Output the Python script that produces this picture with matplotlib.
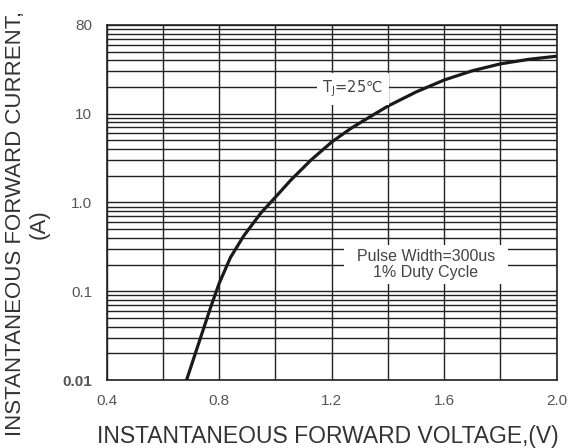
import matplotlib
matplotlib.use('Agg')
import matplotlib.pyplot as plt
from matplotlib.ticker import LogLocator, FixedLocator, NullFormatter

# forward voltage (V) vs forward current (A)
voltage = [0.684, 0.713, 0.742, 0.771, 0.80, 0.84, 0.887, 0.948, 1.0, 1.054,
           1.126, 1.2, 1.27, 1.34, 1.4, 1.5, 1.6, 1.7, 1.8, 1.9, 2.0]
current = [0.010, 0.019, 0.036, 0.068, 0.123, 0.24, 0.42, 0.76, 1.15, 1.78,
           3.0, 4.8, 6.9, 9.4, 12.2, 17.6, 24.0, 30.5, 36.5, 41.0, 44.5]

x_ticks = [0.4, 0.8, 1.2, 1.6, 2.0]
x_tick_labels = ['0.4', '0.8', '1.2', '1.6', '2.0']
x_minor = [0.6, 1.0, 1.4, 1.8]
y_ticks = [0.01, 0.1, 1, 10, 100]
y_tick_labels = ['0.01', '0.1', '1.0', '10', '80']

plt.rcParams['font.family'] = ['Liberation Sans', 'DejaVu Sans']
plt.rcParams['mathtext.fontset'] = 'custom'
plt.rcParams['mathtext.rm'] = 'DejaVu Sans'
plt.rcParams['mathtext.it'] = 'DejaVu Sans'

fig = plt.figure(figsize=(5.68, 4.48), dpi=100)
ax = fig.add_axes([106.7 / 568, 68 / 448, 450 / 568, 355 / 448])

ax.set_yscale('log')
ax.set_xlim(0.4, 2.0)
ax.set_ylim(0.01, 100)

ax.xaxis.set_major_locator(FixedLocator(x_ticks))
ax.xaxis.set_minor_locator(FixedLocator(x_minor))
ax.set_xticklabels(x_tick_labels)
ax.yaxis.set_major_locator(FixedLocator(y_ticks))
ax.yaxis.set_minor_locator(LogLocator(base=10, subs=range(2, 10)))
ax.yaxis.set_minor_formatter(NullFormatter())
ax.set_yticklabels(y_tick_labels)

ax.grid(True, which='both', color='#222222', linewidth=1.0)
ax.set_axisbelow(True)
ax.tick_params(which='both', length=0, labelsize=11, colors='#555555')
ax.tick_params(axis='x', pad=10)
ax.tick_params(axis='y', pad=10.5)
ax.get_yticklabels()[0].set_fontweight('bold')
for sp in ax.spines.values():
    sp.set_linewidth(1.2)
    sp.set_color('#222222')

ax.plot(voltage, current, color='#1a1a1a', linewidth=2.3,
        solid_joinstyle='round', zorder=3)

ax.text(1.275, 19, r'T$_{\rm J}$=25℃', fontsize=10.5, color='#444444',
        family='DejaVu Sans', ha='center', va='center', zorder=4,
        bbox=dict(facecolor='white', edgecolor='none', pad=4))
ax.text(1.535, 0.2, '  Pulse Width=300us  \n1% Duty Cycle', fontsize=11.5,
        color='#444444', ha='center', va='center', linespacing=1.1, zorder=4,
        bbox=dict(facecolor='white', edgecolor='none', pad=3))

fig.text(0.578, 0.0246, 'INSTANTANEOUS FORWARD VOLTAGE,(V)', fontsize=16.5,
         color='#333333', ha='center', va='center')
fig.text(0.048, 0.5, 'INSTANTANEOUS FORWARD CURRENT,\n(A)', fontsize=16,
         color='#333333', ha='center', va='center', rotation=90,
         multialignment='center')

fig.savefig('out.png', dpi=100)
